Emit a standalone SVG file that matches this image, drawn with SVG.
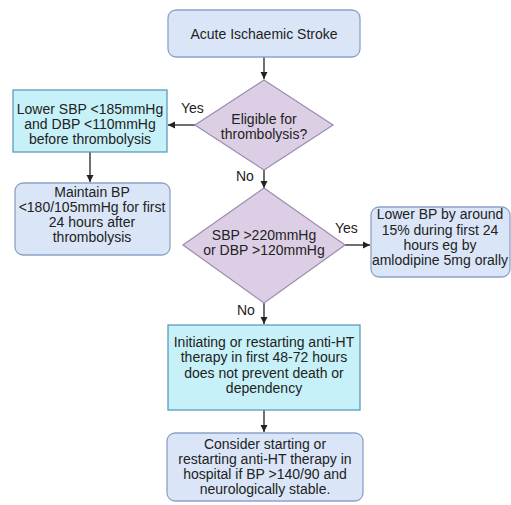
<svg xmlns="http://www.w3.org/2000/svg" width="511" height="505" viewBox="0 0 511 505">
<style>
text{font-family:"Liberation Sans",Arial,sans-serif;font-size:14px;fill:#222;text-anchor:middle}
.blue{fill:#dae6f8;stroke:#8ca3c6;stroke-width:1.3}
.cyan{fill:#c7f1f8;stroke:#5a9cc0;stroke-width:1.3}
.dia{fill:#dccfe5;stroke:#9f8fb0;stroke-width:1.3}
.c{stroke:#222;stroke-width:1.3;fill:none;marker-end:url(#ah)}
.lbl{text-anchor:start}
</style>
<defs>
<marker id="ah" markerWidth="8" markerHeight="8" refX="7" refY="4" orient="auto" markerUnits="userSpaceOnUse">
<path d="M0,0.5 L7,4 L0,7.5 Z" fill="#222"/>
</marker>
</defs>
<rect width="511" height="505" fill="#fff"/>
<g id="connectors">
<path class="c" d="M264,57 V79"/>
<path class="c" d="M195,125 H168"/>
<path class="c" d="M90,152 V182"/>
<path class="c" d="M264,170 V188"/>
<path class="c" d="M345,245 H370"/>
<path class="c" d="M264,303 V324"/>
<path class="c" d="M264,410 V432"/>
<text class="lbl" x="181" y="113">Yes</text>
<text class="lbl" x="236" y="181">No</text>
<text class="lbl" x="335" y="233">Yes</text>
<text class="lbl" x="237" y="315">No</text>
</g>
<g id="start">
<rect class="blue" x="168" y="10" width="192" height="47" rx="8"/>
<text x="264" y="39">Acute Ischaemic Stroke</text>
</g>
<g id="eligible">
<polygon class="dia" points="264,80 333,125 264,170 195,125"/>
<text x="264" y="124">Eligible for</text>
<text x="264" y="139">thrombolysis?</text>
</g>
<g id="lower-sbp">
<rect class="cyan" x="13" y="90" width="154" height="62"/>
<text x="90" y="114">Lower SBP &lt;185mmHg</text>
<text x="90" y="129">and DBP &lt;110mmHg</text>
<text x="90" y="144">before thrombolysis</text>
</g>
<g id="maintain">
<rect class="blue" x="15" y="183" width="155" height="72" rx="8"/>
<text x="92" y="197">Maintain BP</text>
<text x="92" y="212">&lt;180/105mmHg for first</text>
<text x="92" y="227">24 hours after</text>
<text x="92" y="242">thrombolysis</text>
</g>
<g id="sbp220">
<polygon class="dia" points="264,188 345,245 264,303 183,245"/>
<text x="264" y="240">SBP &gt;220mmHg</text>
<text x="264" y="255">or DBP &gt;120mmHg</text>
</g>
<g id="lower-bp">
<rect class="blue" x="371" y="207" width="139" height="70" rx="8"/>
<text x="440" y="219">Lower BP by around</text>
<text x="440" y="235">15% during first 24</text>
<text x="440" y="250">hours eg by</text>
<text x="440" y="265">amlodipine 5mg orally</text>
</g>
<g id="initiating">
<rect class="cyan" x="168" y="325" width="192" height="85"/>
<text x="264" y="347">Initiating or restarting anti-HT</text>
<text x="264" y="362">therapy in first 48-72 hours</text>
<text x="264" y="378">does not prevent death or</text>
<text x="264" y="393">dependency</text>
</g>
<g id="consider">
<rect class="blue" x="167" y="433" width="196" height="68" rx="8"/>
<text x="265" y="449">Consider starting or</text>
<text x="265" y="464">restarting anti-HT therapy in</text>
<text x="265" y="479">hospital if BP &gt;140/90 and</text>
<text x="265" y="494">neurologically stable.</text>
</g>
</svg>
